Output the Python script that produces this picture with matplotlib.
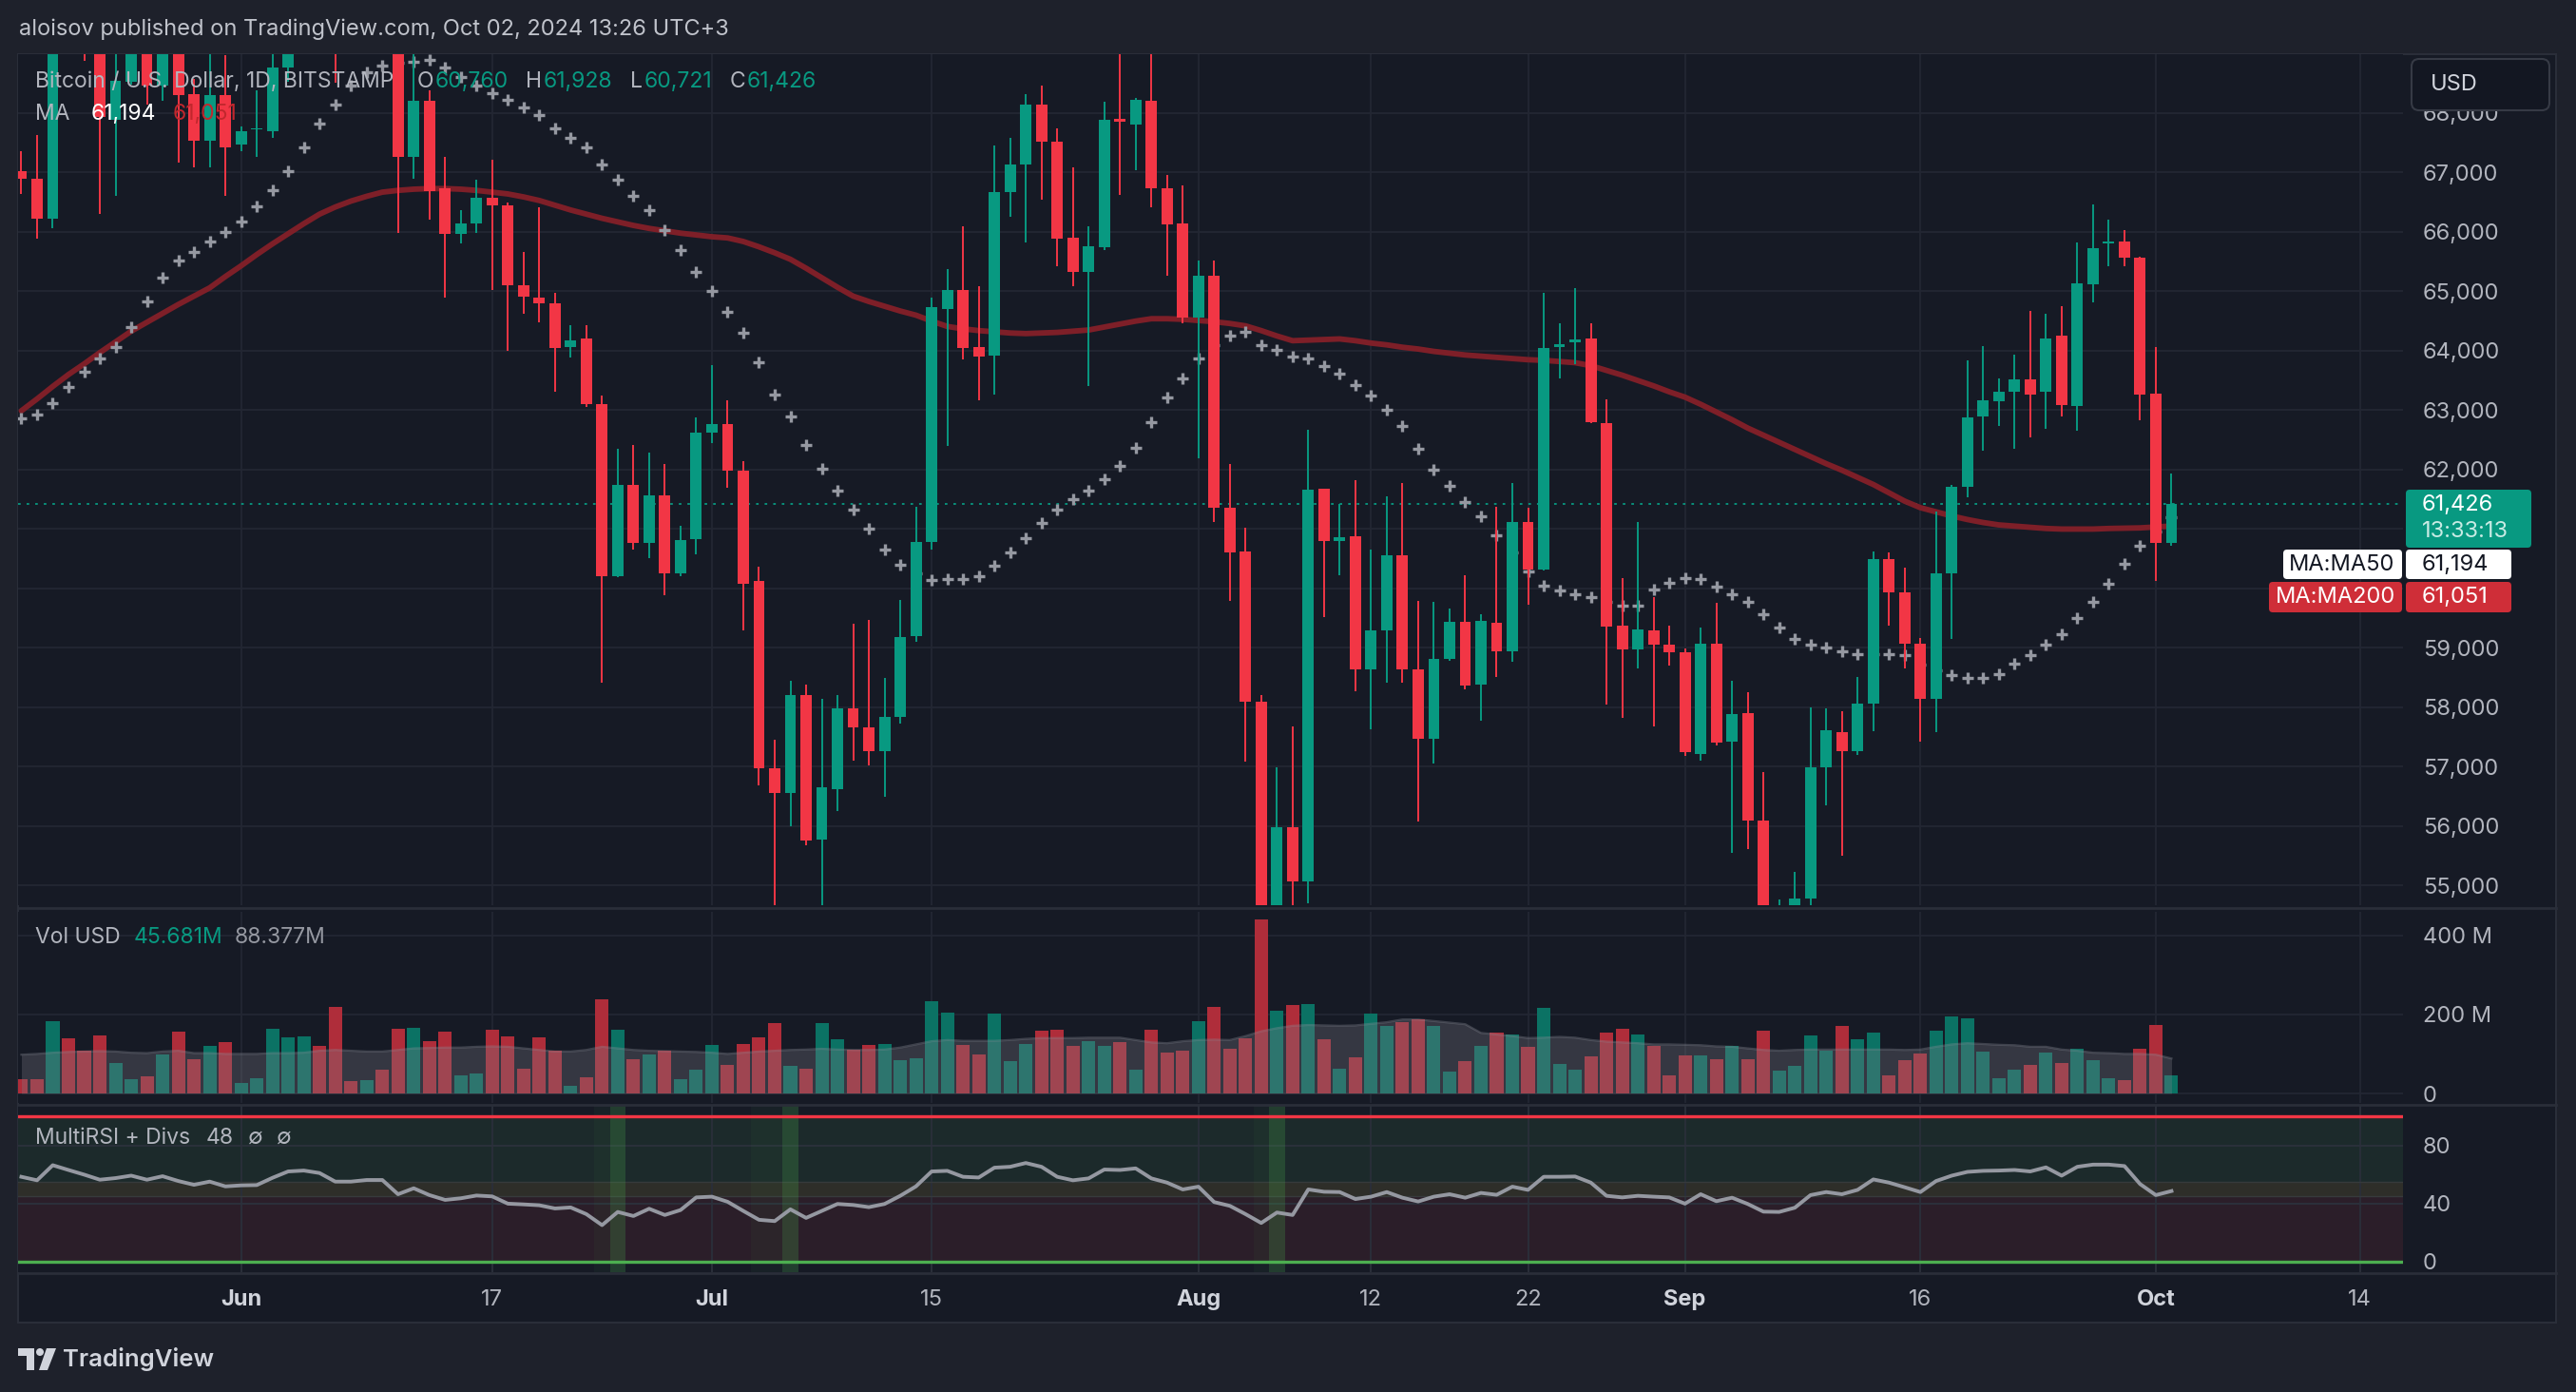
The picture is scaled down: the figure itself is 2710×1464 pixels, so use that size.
import numpy as np
import pandas as pd
import matplotlib
matplotlib.use('Agg')
import matplotlib.pyplot as plt
import matplotlib.transforms as mtransforms
from matplotlib.patches import Rectangle, FancyBboxPatch, Polygon, Ellipse

plt.rcParams['font.family'] = ['Inter', 'DejaVu Sans']

# ---- data (daily BTCUSD, Bitstamp, from 2024-05-18) ----
start = '2024-05-18'
opens = [67020, 66900, 66230, 71400, 70150, 69200, 67880, 68535, 69290, 68460,
         69390, 68320, 67540, 68300, 67470, 67720, 67700, 68765, 70570, 71080,
         70760, 69340, 69310, 69650, 69510, 67270, 68200, 66730, 65960, 66145,
         66580, 66440, 65100, 64900, 64800, 64070, 64200, 63110, 60200, 61750,
         60760, 61570, 60260, 60830, 62620, 62760, 61980, 60130, 56970, 56560,
         58210, 55780, 56620, 57980, 57660, 57265, 57835, 59200, 60775, 64710,
         65030, 64060, 63920, 66670, 67130, 68140, 67520, 65905, 65320, 65750,
         67910, 67800, 68200, 66730, 66145, 64565, 65260, 61365, 60620, 58090,
         54000, 55980, 55070, 61680, 60805, 60880, 58645, 59295, 60555, 58645,
         57475, 58810, 59435, 58385, 59425, 58945, 61125, 60325, 64067, 64140,
         64200, 62780, 59380, 58975, 59295, 59055, 58920, 57220, 59065, 57430,
         57910, 56100, 53950, 54150, 54790, 56990, 57585, 57265, 58070, 60490,
         59940, 59065, 58147, 60260, 61705, 62900, 63150, 63315, 63525, 63315,
         64250, 63065, 65125, 65815, 65840, 65565, 63285, 60760]
highs = [67360, 67630, 71500, 71900, 70600, 70200, 69200, 69500, 69500, 70600,
         69560, 68570, 69030, 68970, 67770, 68390, 70200, 71050, 71750, 71600,
         71950, 69580, 69900, 70150, 69600, 69980, 68390, 67270, 66375, 66880,
         67220, 66500, 65660, 66410, 64970, 64435, 64435, 63250, 62350, 62410,
         62280, 62100, 61050, 62880, 63755, 63160, 62150, 60370, 57450, 58440,
         58390, 58150, 58210, 59410, 59470, 58490, 59800, 61380, 64895, 65380,
         66090, 65080, 67450, 67590, 68320, 68460, 67745, 67080, 66090, 68185,
         69400, 68260, 70000, 66960, 66780, 65520, 65520, 62100, 61015, 58210,
         56990, 57680, 62670, 61680, 61430, 61815, 60650, 61550, 61770, 59790,
         59770, 59655, 60215, 59570, 61380, 61780, 61365, 64970, 64460, 65060,
         64460, 63190, 60170, 61125, 59850, 59380, 58990, 59340, 59755, 58440,
         58260, 56905, 54765, 55225, 58000, 57980, 57935, 58505, 60620, 60600,
         60345, 59160, 61290, 61750, 63840, 64080, 63540, 63940, 64675, 64630,
         64755, 65825, 66465, 66210, 66025, 65590, 64070, 61928]
lows = [66640, 65890, 66070, 69200, 68880, 66300, 66600, 68480, 68140, 68200,
        67175, 67080, 67080, 66600, 67360, 67270, 67590, 68535, 70400, 70150,
        68510, 69200, 69150, 69200, 65980, 66900, 66210, 64890, 65800, 65980,
        65030, 64000, 64630, 64480, 63310, 63890, 63050, 58420, 60190, 60650,
        60510, 59880, 60200, 60570, 62440, 61700, 59300, 56690, 53500, 56000,
        55680, 54300, 56250, 57110, 57030, 56490, 57720, 59100, 60650, 62395,
        63860, 63175, 63260, 66255, 65820, 66550, 65430, 65090, 63405, 65700,
        66620, 67040, 66420, 65270, 64460, 62190, 61125, 59790, 57090, 49000,
        53700, 54600, 54700, 59515, 60215, 58275, 57630, 58420, 58420, 56080,
        57060, 58790, 58300, 57780, 58515, 58765, 59730, 60305, 63540, 63770,
        62780, 58045, 57815, 58650, 57680, 58700, 57180, 57100, 57355, 55545,
        55610, 52550, 53750, 53650, 54600, 56345, 55500, 57200, 57595, 59380,
        58650, 57430, 57585, 59150, 61540, 62320, 62730, 62350, 62550, 62690,
        62900, 62650, 64810, 65430, 65430, 62825, 60125, 60721]
closes = [66900, 66230, 71400, 70150, 69200, 67930, 68550, 69290, 68460, 69390,
          68300, 67540, 68300, 67420, 67700, 67745, 68765, 70570, 71080, 70760,
          69340, 69310, 69650, 69510, 67270, 68200, 66690, 65960, 66145, 66580,
          66440, 65100, 64910, 64800, 64050, 64170, 63110, 60200, 61750, 60760,
          61570, 60260, 60810, 62620, 62760, 61980, 60080, 56970, 56560, 58210,
          55760, 56650, 57980, 57660, 57265, 57835, 59180, 60775, 64730, 65030,
          64040, 63900, 66670, 67130, 68140, 67520, 65890, 65335, 65760, 67890,
          67855, 68230, 66740, 66135, 64565, 65260, 61365, 60600, 58090, 54000,
          55980, 55070, 61660, 60805, 60860, 58645, 59295, 60555, 58645, 57475,
          58810, 59435, 58370, 59450, 58945, 61125, 60325, 64050, 64113, 64185,
          62800, 59360, 58975, 59315, 59055, 58920, 57245, 59065, 57410, 57890,
          56100, 53950, 54150, 54790, 56990, 57615, 57265, 58070, 60490, 59940,
          59065, 58147, 60260, 61705, 62880, 63160, 63315, 63525, 63265, 64215,
          63085, 65135, 65730, 65835, 65565, 63260, 60760, 61426]
ma50 = [62860, 62930, 63120, 63390, 63650, 63870, 64060, 64400, 64830, 65230,
        65520, 65670, 65840, 66000, 66180, 66430, 66710, 67020, 67430, 67820,
        68150, 68470, 68690, 68800, 68850, 68870, 68890, 68770, 68600, 68470,
        68340, 68230, 68100, 67960, 67750, 67590, 67420, 67140, 66880, 66610,
        66360, 66030, 65690, 65320, 65000, 64650, 64300, 63800, 63270, 62890,
        62420, 62010, 61650, 61330, 61010, 60660, 60400, 60250, 60140, 60160,
        60160, 60200, 60380, 60600, 60850, 61100, 61330, 61510, 61640, 61840,
        62060, 62370, 62800, 63210, 63530, 63870, 64100, 64260, 64320, 64100,
        64020, 63900, 63870, 63750, 63620, 63430, 63240, 63010, 62740, 62350,
        62000, 61720, 61460, 61210, 60890, 60600, 60290, 60040, 59960, 59910,
        59850, 59780, 59710, 59710, 59975, 60095, 60170, 60160, 60030, 59900,
        59775, 59570, 59350, 59150, 59055, 59010, 58940, 58890, 58900, 58900,
        58875, 58720, 58625, 58535, 58490, 58490, 58560, 58735, 58875, 59050,
        59230, 59510, 59780, 60085, 60420, 60720, 60960, 61194]
ma200 = [62990, 63190, 63400, 63600, 63780, 63970, 64150, 64330, 64480, 64630,
         64780, 64920, 65060, 65250, 65430, 65620, 65800, 65970, 66140, 66300,
         66420, 66520, 66600, 66670, 66700, 66720, 66730, 66730, 66720, 66700,
         66670, 66640, 66590, 66530, 66450, 66370, 66300, 66230, 66170, 66110,
         66060, 66020, 65980, 65950, 65920, 65900, 65840, 65750, 65650, 65540,
         65390, 65230, 65070, 64920, 64830, 64750, 64670, 64600, 64500, 64410,
         64370, 64340, 64320, 64300, 64290, 64300, 64310, 64330, 64350, 64400,
         64450, 64500, 64540, 64540, 64530, 64510, 64490, 64460, 64420, 64340,
         64250, 64170, 64180, 64190, 64200, 64170, 64130, 64100, 64060, 64030,
         63990, 63960, 63930, 63910, 63890, 63870, 63850, 63840, 63820, 63800,
         63750, 63670, 63590, 63500, 63410, 63310, 63220, 63100, 62970, 62840,
         62700, 62580, 62460, 62340, 62220, 62100, 61990, 61870, 61750, 61610,
         61470, 61360, 61290, 61220, 61160, 61110, 61070, 61050, 61030, 61010,
         61000, 61000, 61000, 61010, 61015, 61020, 61035, 61051]
volume = [37, 37, 183, 139, 107, 147, 77, 37, 44, 98,
          157, 86, 119, 129, 27, 39, 164, 143, 145, 119,
          218, 32, 34, 60, 164, 166, 133, 157, 46, 51,
          161, 145, 63, 143, 107, 20, 42, 239, 161, 86,
          98, 107, 37, 60, 122, 72, 124, 143, 178, 70,
          63, 178, 138, 110, 122, 124, 84, 89, 232, 204,
          122, 98, 201, 82, 126, 159, 161, 119, 131, 119,
          129, 60, 161, 103, 107, 183, 218, 112, 140, 439,
          209, 223, 225, 136, 63, 91, 201, 171, 180, 187,
          171, 56, 82, 119, 154, 150, 117, 216, 74, 60,
          93, 154, 164, 150, 119, 46, 96, 96, 86, 119,
          86, 159, 58, 70, 147, 107, 171, 138, 154, 46,
          84, 100, 159, 194, 190, 105, 39, 60, 72, 103,
          77, 114, 84, 39, 34, 114, 173, 45.681]
vol_ma = [98, 100, 103, 105, 106, 107, 106, 103, 102, 106,
          108, 102, 102, 100, 100, 100, 102, 102, 103, 108,
          110, 108, 106, 106, 110, 114, 115, 116, 116, 118,
          119, 118, 114, 110, 106, 106, 110, 118, 114, 110,
          108, 107, 106, 105, 103, 100, 103, 106, 108, 110,
          111, 113, 111, 110, 110, 111, 116, 124, 132, 135,
          133, 133, 133, 135, 138, 140, 140, 140, 141, 141,
          141, 135, 129, 127, 132, 135, 136, 135, 145, 157,
          165, 171, 173, 172, 171, 172, 176, 180, 187, 187,
          183, 179, 175, 153, 149, 145, 140, 141, 143, 141,
          135, 131, 129, 127, 124, 124, 123, 122, 119, 118,
          114, 110, 108, 110, 111, 111, 111, 111, 111, 111,
          110, 111, 118, 124, 127, 125, 123, 122, 118, 118,
          111, 108, 103, 102, 100, 100, 98, 88.377]
rsi = [58.3, 55.9, 66.3, 63.0, 59.8, 56.3, 57.4, 59.1, 56.3, 58.7,
       55.4, 52.8, 55.0, 51.7, 52.4, 52.6, 57.6, 62.0, 62.6, 60.9,
       55.0, 55.0, 56.1, 56.1, 46.3, 50.4, 45.7, 42.4, 43.5, 45.4,
       44.8, 39.8, 39.3, 38.7, 36.5, 37.2, 32.6, 25.0, 34.1, 31.3,
       36.3, 32.0, 35.4, 44.1, 44.6, 41.1, 34.8, 28.7, 27.8, 35.9,
       30.0, 34.8, 39.6, 38.9, 37.4, 39.6, 45.2, 51.7, 62.0, 62.4,
       58.3, 57.8, 64.6, 65.2, 67.8, 65.2, 58.3, 55.9, 57.2, 63.3,
       63.0, 64.1, 57.2, 54.3, 49.6, 51.5, 40.9, 38.3, 32.6, 26.5,
       33.7, 32.0, 49.6, 48.0, 47.8, 43.0, 44.6, 47.8, 43.9, 41.3,
       44.6, 46.3, 43.9, 47.2, 45.9, 51.5, 49.3, 58.3, 58.3, 58.5,
       54.3, 45.2, 44.1, 45.2, 44.6, 44.1, 39.8, 46.3, 41.5, 43.9,
       39.6, 34.3, 34.1, 37.0, 45.7, 47.8, 46.3, 49.3, 56.5, 54.3,
       51.1, 47.8, 55.4, 59.1, 61.7, 62.4, 62.6, 63.0, 62.0, 64.8,
       59.1, 65.2, 66.7, 66.7, 65.7, 53.3, 45.7, 48.5]
div_start = [37, 47, 79]   # bullish divergence highlight, faint part
div_bar = [38, 49, 80]     # bright bar
tick_dates = ['2024-06-01', '2024-06-17', '2024-07-01', '2024-07-15', '2024-08-01',
              '2024-08-12', '2024-08-22', '2024-09-01', '2024-09-16', '2024-10-01',
              '2024-10-14']
tick_labels = ['Jun', '17', 'Jul', '15', 'Aug', '12', '22', 'Sep', '16', 'Oct', '14']
months = {'Jun', 'Jul', 'Aug', 'Sep', 'Oct'}
hidden_price_ticks = {60000, 61000}   # sit under the price / MA tags

dates = pd.date_range(start, periods=len(closes), freq='D')
x = np.arange(len(dates))
tick_pos = [(pd.Timestamp(d) - dates[0]).days for d in tick_dates]

GREEN = '#089981'
RED = '#f23645'
BG = '#161a25'
GRID = '#232733'
TXT = '#b2b5be'

W, H = 2710, 1464
fig = plt.figure(figsize=(W / 100, H / 100), dpi=100)
fig.patch.set_facecolor('#1e212b')
PX = mtransforms.Affine2D().scale(1 / 100) + fig.dpi_scale_trans


def fx(p):
    return p / W


def fy(p):
    return 1 - p / H


def box(x0, y0, x1, y1, fc, ec='none', r=4, lw=1.0, z=10):
    p = FancyBboxPatch((x0, H - y1), x1 - x0, y1 - y0,
                       boxstyle=f"round,pad=0,rounding_size={r}",
                       transform=PX, facecolor=fc, edgecolor=ec, lw=lw, zorder=z)
    fig.add_artist(p)


# chart panel
fig.add_artist(Rectangle((19, H - 1391), 2670, 1334, transform=PX,
                         facecolor=BG, edgecolor='#2a2e39', lw=1.5, zorder=-5))

L, R = 19, 2528


def pane(top, bottom):
    ax = fig.add_axes([fx(L), fy(bottom), fx(R) - fx(L), fy(top) - fy(bottom)])
    ax.set_facecolor(BG)
    for s in ax.spines.values():
        s.set_visible(False)
    ax.set_xlim(-0.21, 151.75)
    ax.set_xticks([])
    ax.yaxis.tick_right()
    ax.tick_params(axis='y', length=0, pad=15, labelsize=17, labelcolor=TXT)
    for t in tick_pos:
        ax.axvline(t, color=GRID, lw=1.3, zorder=0)
    return ax


# ---- price pane ----
ax = pane(57, 952)
ax.set_ylim(54670, 68992)
yt = np.arange(55000, 68001, 1000)
ax.set_yticks(yt)
ax.set_yticklabels(['' if v in hidden_price_ticks else f"{v:,.0f}" for v in yt])
for v in yt:
    ax.axhline(v, color=GRID, lw=1.3, zorder=0)

o = np.array(opens, float)
h = np.array(highs, float)
l = np.array(lows, float)
c = np.array(closes, float)
up = c >= o
col = np.where(up, GREEN, RED)

ax.plot(x, ma200, color='#7e1f28', lw=4.2, zorder=2, solid_capstyle='round')
ax.plot(x, ma50, ls='none', marker='+', ms=8.5, mew=2.4, color='#9598a1', zorder=2.5)
ax.axhline(closes[-1], color=GREEN, lw=1.3, ls=(0, (1.5, 3.5)), zorder=1)
ax.vlines(x, l, h, colors=col, lw=1.4, zorder=3)
ax.bar(x, np.maximum(np.abs(c - o), 25), bottom=np.minimum(o, c), width=0.72,
       color=col, zorder=4)

# ---- volume pane ----
av = pane(959, 1160)
av.set_ylim(-24, 459)
av.set_yticks([0, 200, 400])
av.set_yticklabels(['0', '200 M', '400 M'])
for v in [0, 200, 400]:
    av.axhline(v, color=GRID, lw=1.3, zorder=0)
vcol = np.where(up, '#0b7264', '#af2d3a')
av.bar(x, volume, width=0.85, color=vcol, zorder=2)
av.fill_between(x, 0, vol_ma, color='#7d7d87', alpha=0.3, lw=0, zorder=3)
av.plot(x, vol_ma, color='#8a8c96', alpha=0.35, lw=1.6, zorder=3)

# ---- RSI pane ----
ar = pane(1163, 1338)
ar.set_ylim(-7.4, 107.2)
ar.set_yticks([0, 40, 80])
ar.axhspan(55, 100, color='#1c2a2b', lw=0, zorder=0.1)
ar.axhspan(45, 55, color='#2e2e29', lw=0, zorder=0.1)
ar.axhspan(0, 45, color='#2b1e29', lw=0, zorder=0.1)
for v in [40, 80]:
    ar.axhline(v, color='#2c313c', lw=1.3, zorder=0.3)
for v in [45, 55]:
    ar.axhline(v, color='#363a3c', lw=1.0, zorder=0.3)
for t in tick_pos:
    ar.axvline(t, color='#2a2f3a', lw=1.3, zorder=0.2)
for s, b in zip(div_start, div_bar):
    ar.axvspan(s - 0.5, b + 0.5, color='#4caf50', alpha=0.05, lw=0, zorder=0.4)
    ar.axvspan(b - 0.5, b + 0.5, color='#4caf50', alpha=0.2, lw=0, zorder=0.4)
ar.axhline(100, color='#f23645', lw=2.4, zorder=1)
ar.axhline(0, color='#4caf50', lw=2.4, zorder=1)
ar.plot(x, rsi, color='#9598a1', lw=2.8, zorder=2)

# pane separators
for yy in [955, 1161.5, 1339]:
    fig.add_artist(plt.Line2D([19, 2689], [H - yy, H - yy], transform=PX,
                              color='#2a2e39', lw=2, zorder=5))

# time axis labels
for t, lab in zip(tick_pos, tick_labels):
    xf = fx(L + (t + 0.21) / (151.75 + 0.21) * (R - L))
    if lab in months:
        fig.text(xf, fy(1367), lab, color='#d1d4dc', fontsize=17, fontweight='bold',
                 ha='center', va='center')
    else:
        fig.text(xf, fy(1367), lab, color=TXT, fontsize=17, ha='center', va='center')

# ---- legends ----
renderer = fig.canvas.get_renderer()


def put_row(x0, y0, pieces, size=16.5):
    cur = x0
    for txt, color, gap in pieces:
        t = fig.text(fx(cur), fy(y0), txt, color=color, fontsize=size,
                     ha='left', va='center', zorder=12)
        cur += t.get_window_extent(renderer).width + gap


fmt = lambda v: f"{v:,.0f}"
put_row(37, 86, [('Bitcoin / U.S. Dollar, 1D, BITSTAMP', TXT, 24),
                 ('O', TXT, 2), (fmt(opens[-1]), GREEN, 18),
                 ('H', TXT, 2), (fmt(highs[-1]), GREEN, 18),
                 ('L', TXT, 2), (fmt(lows[-1]), GREEN, 18),
                 ('C', TXT, 2), (fmt(closes[-1]), GREEN, 0)])
put_row(37, 120, [('MA', TXT, 22), (fmt(ma50[-1]), '#ffffff', 18),
                  (fmt(ma200[-1]), '#c1272d', 0)])
put_row(37, 986, [('Vol USD', TXT, 14), (f"{volume[-1]:.3f}M", GREEN, 12),
                  (f"{vol_ma[-1]:.3f}M", '#9598a1', 0)])
put_row(37, 1197, [('MultiRSI + Divs', TXT, 16), (f"{rsi[-1]:.0f}", TXT, 16),
                   ('\u2205', TXT, 14), ('\u2205', TXT, 0)])

fig.text(fx(20), fy(31), 'aloisov published on TradingView.com, Oct 02, 2024 13:26 UTC+3',
         color='#c0c3cb', fontsize=17, ha='left', va='center')

# ---- right-side labels ----
box(2537, 62, 2682, 116, '#131722', ec='#363a45', r=8, lw=1.5)
fig.text(fx(2557), fy(89), 'USD', color='#d1d4dc', fontsize=17, ha='left', va='center', zorder=11)

box(2531, 515, 2663, 576, GREEN, r=4)
fig.text(fx(2548), fy(531), fmt(closes[-1]), color='#ffffff', fontsize=17, ha='left',
         va='center', zorder=11)
fig.text(fx(2548), fy(559), '13:33:13', color='#c8ebe4', fontsize=17, ha='left',
         va='center', zorder=11)

box(2402, 578, 2527, 609, '#ffffff', r=4)
box(2531, 578, 2642, 609, '#ffffff', r=4)
fig.text(fx(2464), fy(594), 'MA:MA50', color='#131722', fontsize=17, ha='center',
         va='center', zorder=11)
fig.text(fx(2548), fy(594), fmt(ma50[-1]), color='#131722', fontsize=17, ha='left',
         va='center', zorder=11)

box(2387, 612, 2527, 644, '#cf2e38', r=4)
box(2531, 612, 2642, 644, '#cf2e38', r=4)
fig.text(fx(2457), fy(628), 'MA:MA200', color='#ffffff', fontsize=17, ha='center',
         va='center', zorder=11)
fig.text(fx(2548), fy(628), fmt(ma200[-1]), color='#ffffff', fontsize=17, ha='left',
         va='center', zorder=11)

# ---- TradingView logo ----
logo = '#d1d4dc'
fig.add_artist(Polygon([(19, H - 1418), (36, H - 1418), (36, H - 1441), (28, H - 1441),
                        (28, H - 1426), (19, H - 1426)], closed=True, transform=PX,
                       facecolor=logo, edgecolor='none', zorder=5))
fig.add_artist(Ellipse((42, H - 1422), 8, 8, transform=PX, facecolor=logo,
                       edgecolor='none', zorder=5))
fig.add_artist(Polygon([(49, H - 1418), (59, H - 1418), (50, H - 1441), (41, H - 1441)],
                       closed=True, transform=PX, facecolor=logo, edgecolor='none', zorder=5))
fig.text(fx(66), fy(1430), 'TradingView', color=logo, fontsize=18.5, fontweight='semibold',
         ha='left', va='center')

fig.savefig('out.png', dpi=100, facecolor=fig.get_facecolor())
